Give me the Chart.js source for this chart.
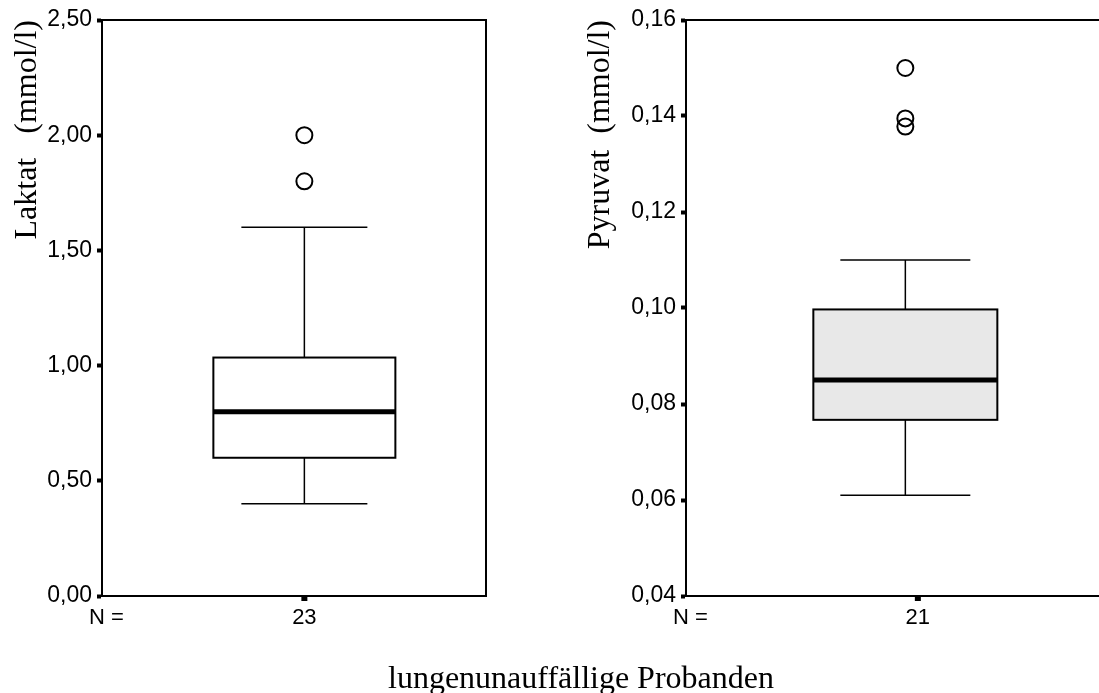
<!DOCTYPE html>
<html>
<head>
<meta charset="utf-8">
<script src="https://cdn.jsdelivr.net/npm/chart.js@4/dist/chart.umd.min.js"></script>
<style>
  html, body { margin: 0; padding: 0; background: #fff; }
  body { width: 1099px; height: 693px; overflow: hidden; position: relative; }
  .box { position: absolute; top: 0; height: 693px; }
  #left { left: 0; width: 545px; }
  #right { left: 573px; width: 540px; }
  #group {
    position: absolute; left: 388px; top: 661px;
    font: 32px/32px 'Liberation Serif', 'Times New Roman', serif;
    color: #000; white-space: nowrap;
  }
</style>
</head>
<body>
<div class="box" id="left"><canvas id="laktatChart"></canvas></div>
<div class="box" id="right"><canvas id="pyruvatChart"></canvas></div>
<div id="group">lungenunauffällige Probanden</div>
<script>
// five-number summaries: lower whisker, Q1, median, Q3, upper whisker
const laktatStats = [0.40, 0.60, 0.80, 1.035, 1.60];
const laktatOutliers = [1.80, 2.00];
const laktatTicks = [0, 0.5, 1.0, 1.5, 2.0, 2.5];

const pyruvatStats = [0.061, 0.0767, 0.085, 0.0997, 0.110];
const pyruvatOutliers = [0.1378, 0.1395, 0.150];
const pyruvatTicks = [0.04, 0.06, 0.08, 0.10, 0.12, 0.14, 0.16];

const groupCounts = [23, 21];
const axisTitles = ['Laktat   (mmol/l)', 'Pyruvat  (mmol/l)'];

const fmt = v => v.toFixed(2).replace('.', ',');

const boxPlugin = {
  id: 'boxes',
  beforeDatasetsDraw(chart, args, opts) {
    const { ctx, scales: { x, y } } = chart;
    const [lo, q1, med, q3, hi] = opts.stats;
    const cx = x.getPixelForValue(opts.center);
    const yLo = y.getPixelForValue(lo), yQ1 = y.getPixelForValue(q1);
    const yMed = y.getPixelForValue(med), yQ3 = y.getPixelForValue(q3);
    const yHi = y.getPixelForValue(hi);
    ctx.save();
    ctx.strokeStyle = '#000';
    // whiskers
    ctx.lineWidth = 1.5;
    ctx.beginPath();
    ctx.moveTo(cx, yQ3); ctx.lineTo(cx, yHi);
    ctx.moveTo(cx - opts.capHalf, yHi); ctx.lineTo(cx + opts.capHalf, yHi);
    ctx.moveTo(cx, yQ1); ctx.lineTo(cx, yLo);
    ctx.moveTo(cx - opts.capHalf, yLo); ctx.lineTo(cx + opts.capHalf, yLo);
    ctx.stroke();
    // box
    ctx.fillStyle = opts.fill;
    ctx.fillRect(cx - opts.boxHalf, yQ3, opts.boxHalf * 2, yQ1 - yQ3);
    ctx.lineWidth = 2;
    ctx.strokeRect(cx - opts.boxHalf, yQ3, opts.boxHalf * 2, yQ1 - yQ3);
    // median
    ctx.lineWidth = 5;
    ctx.beginPath();
    ctx.moveTo(cx - opts.boxHalf, yMed); ctx.lineTo(cx + opts.boxHalf, yMed);
    ctx.stroke();
    ctx.restore();
  },
  afterDraw(chart, args, opts) {
    const { ctx, chartArea: a, scales: { x } } = chart;
    ctx.save();
    ctx.strokeStyle = '#000';
    ctx.lineWidth = 2;
    ctx.beginPath();
    ctx.moveTo(a.left, a.top); ctx.lineTo(a.right, a.top);
    ctx.lineTo(a.right, a.bottom); ctx.lineTo(a.left, a.bottom);
    ctx.stroke();
    const tx = x.getPixelForValue(opts.tick);
    ctx.fillStyle = '#000';
    ctx.fillRect(tx - 3, a.bottom, 6, 5);
    ctx.font = "22px 'Liberation Sans', Arial, sans-serif";
    ctx.textBaseline = 'middle';
    ctx.textAlign = 'left';
    ctx.fillText('N =', a.left - 13, a.bottom + 22);
    ctx.textAlign = 'center';
    ctx.fillText(String(opts.n), tx, a.bottom + 22);
    ctx.restore();
  }
};

function makeChart(id, stats, outliers, ticks, title, n, yWidth, padRight, look) {
  return new Chart(document.getElementById(id), {
    type: 'scatter',
    data: {
      datasets: [{
        data: outliers.map(v => ({ x: look.center, y: v })),
        pointRadius: 8,
        pointBorderWidth: 2,
        borderColor: '#000',
        backgroundColor: 'rgba(0,0,0,0)',
        pointStyle: 'circle'
      }]
    },
    options: {
      responsive: true,
      maintainAspectRatio: false,
      animation: false,
      events: [],
      layout: { padding: { top: 20, right: padRight, bottom: 97, left: 0 } },
      plugins: {
        legend: { display: false },
        tooltip: { enabled: false },
        boxes: { stats, n, ...look }
      },
      scales: {
        x: { type: 'linear', min: 0, max: 1, display: false },
        y: {
          min: ticks[0],
          max: ticks[ticks.length - 1],
          afterBuildTicks: s => { s.ticks = ticks.map(v => ({ value: v })); },
          afterFit: s => { s.width = yWidth; },
          border: { display: true, color: '#000', width: 2 },
          grid: {
            drawOnChartArea: false, drawTicks: true,
            tickLength: 5, tickWidth: 4, tickColor: '#000'
          },
          ticks: {
            padding: 5,
            color: '#000',
            font: { family: "'Liberation Sans', Arial, sans-serif", size: 23 },
            callback: v => fmt(v)
          },
          title: {
            display: true,
            text: title,
            align: 'end',
            color: '#000',
            padding: { top: 8, bottom: 0 },
            font: { family: "'Liberation Serif', 'Times New Roman', serif", size: 32 }
          }
        }
      }
    },
    plugins: [boxPlugin]
  });
}

makeChart('laktatChart', laktatStats, laktatOutliers, laktatTicks, axisTitles[0], groupCounts[0],
  102, 59, { center: 0.527, tick: 0.527, boxHalf: 91, capHalf: 63, fill: '#ffffff' });
makeChart('pyruvatChart', pyruvatStats, pyruvatOutliers, pyruvatTicks, axisTitles[1], groupCounts[1],
  113, 10, { center: 0.526, tick: 0.556, boxHalf: 92, capHalf: 65, fill: '#e8e8e8' });
</script>
</body>
</html>
